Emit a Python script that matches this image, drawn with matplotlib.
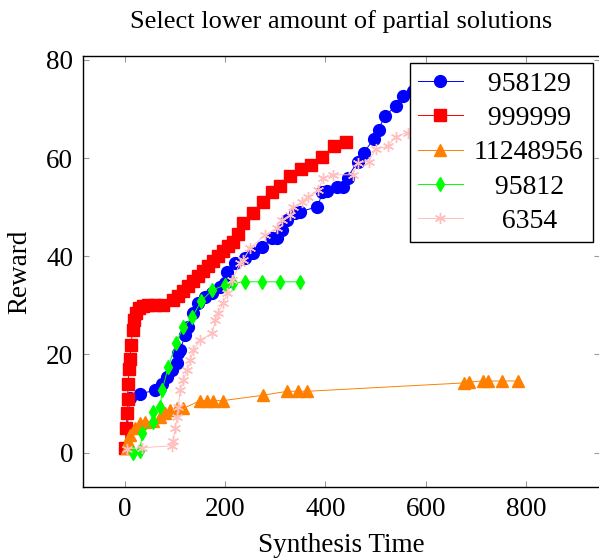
import matplotlib
matplotlib.use("Agg")
import matplotlib.pyplot as plt

plt.rcParams['font.family'] = ['Liberation Serif', 'DejaVu Serif']

# 958129
blue_x = [2, 4, 10, 30, 60, 74, 84, 94, 104, 106, 110, 120, 126, 136, 146, 160, 174, 190, 200,
          204, 220, 240, 256, 274, 294, 304, 314, 324, 340, 350, 384, 394, 404, 424, 434, 444,
          464, 476, 496, 506, 518, 540, 554, 574]
blue_y = [1, 5, 11.2, 12, 12.7, 14, 15.4, 16.8, 18.2, 20.2, 20.9, 24, 25.6, 28.4, 30.5, 31.7, 32.5,
          33.7, 34.6, 36.8, 38.6, 39.7, 40.7, 41.9, 43.8, 43.8, 45.4, 47.4, 48.9, 49.1, 50.1, 53,
          53.2, 54.2, 54.2, 56, 59.3, 61.1, 63.8, 65.8, 68.5, 70.6, 72.6, 73.6]

# 999999
red_x = [0, 2, 4, 5, 6, 8, 10, 12, 15, 18, 22, 28, 35, 45, 60, 75, 95, 105, 115, 125, 135, 145,
         155, 165, 175, 185, 195, 205, 215, 225, 236, 256, 276, 294, 310, 330, 352, 372, 394,
         418, 440]
red_y = [1, 5, 8, 11, 14, 17, 19, 22, 25, 27, 28.5, 29.5, 29.8, 30, 30, 30, 31, 32, 33, 34, 35,
         36, 37, 38, 39, 40, 41, 42, 43, 44.5, 46.8, 48.9, 51.1, 53, 54.4, 56.4, 57.7, 58.5, 60.3,
         62.4, 63.2]

# 11248956
orange_x = [4, 6, 10, 20, 30, 40, 56, 70, 80, 90, 104, 116, 150, 164, 176, 196, 276, 324, 346,
            364, 676, 686, 714, 724, 752, 784]
orange_y = [1, 2.4, 3.5, 5, 6, 6.3, 6.5, 7.2, 8, 8.6, 9, 9, 10.6, 10.6, 10.6, 10.6, 11.7, 12.5,
            12.5, 12.5, 14.2, 14.4, 14.6, 14.6, 14.6, 14.6]

# 95812
green_x = [16, 30, 34, 56, 56, 70, 74, 86, 102, 116, 134, 152, 174, 200, 216, 240, 274, 310, 350]
green_y = [0.0, 0.4, 3.9, 6.3, 8.2, 9.2, 12.7, 17.4, 22.3, 25.6, 27.6, 30.9, 33.1, 34.2, 34.6,
           34.8, 34.8, 34.8, 34.8]

# 6354
pink_x = [4, 34, 94, 96, 100, 104, 106, 110, 116, 124, 130, 136, 150, 174, 180, 186, 196, 204,
          214, 230, 236, 250, 280, 304, 314, 330, 336, 354, 366, 386, 396, 416, 454, 464, 486,
          500, 524, 540, 564, 620, 700]
pink_y = [0.8, 1.0, 1.4, 2.4, 5, 7.2, 9.2, 12.7, 14.7, 16.8, 18.8, 20.9, 22.9, 24.3, 27, 28.4,
          30.5, 32.5, 35.2, 38.6, 39.3, 41.7, 44.4, 45.8, 47.4, 48.5, 50.1, 51.1, 52.1, 53.6, 56,
          56.6, 56.6, 59.1, 59.3, 61.8, 62.4, 64.4, 65.2, 67, 70]

labels = ['958129', '999999', '11248956', '95812', '6354']

# legend entries are centred in the reference: pad with digit-wide spaces
widest = max(len(l) for l in labels)
def centred(s):
    pad = widest - len(s)
    half = '\u2005' if pad % 2 else ''
    return '\u2007' * (pad // 2) + half + s + half + '\u2007' * (pad // 2)

fig = plt.figure(figsize=(5.99, 5.58), dpi=100)
ax = fig.add_axes([83 / 599, 1 - 487 / 558, (600 - 83) / 599, (487 - 56) / 558])

ax.plot(blue_x, blue_y, color='blue', marker='o', markersize=8.5, linewidth=0.7, label=centred(labels[0]))
ax.plot(red_x, red_y, color='red', marker='s', markersize=8.5, linewidth=0.7, label=centred(labels[1]))
ax.plot(orange_x, orange_y, color='#ff8000', marker='^', markersize=8, linewidth=0.7, label=centred(labels[2]))
ax.plot(green_x, green_y, color='#00ff00', marker='d', markersize=7, linewidth=0.7, label=centred(labels[3]))
ax.plot(pink_x, pink_y, color='#ffbfbf', marker=(6, 2, 0), markersize=8, linewidth=0.7,
        label=centred(labels[4]))

ax.set_xlim(-84, 948)
ax.set_ylim(-7, 80.8)
ax.set_xticks([0, 200, 400, 600, 800])
ax.set_yticks([0, 20, 40, 60, 80])
ax.tick_params(direction='in', length=4.5, width=0.8, color='#999999', labelsize=19.5,
               top=True, right=True, pad=7)
for s in ax.spines.values():
    s.set_linewidth(1.0)

ax.set_xlabel('Synthesis Time', fontsize=19.5, labelpad=8)
ax.set_ylabel('Reward', fontsize=19.5, labelpad=10)
ax.set_title('Select lower amount of partial solutions', fontsize=19, pad=20)

leg = ax.legend(loc='upper right', fontsize=20, fancybox=False, edgecolor='black',
                framealpha=1, borderaxespad=0.25, handlelength=1.6, labelspacing=0.32,
                borderpad=0.3, handletextpad=0.4)
leg.get_frame().set_linewidth(1.0)

fig.savefig('out.png', dpi=100)
